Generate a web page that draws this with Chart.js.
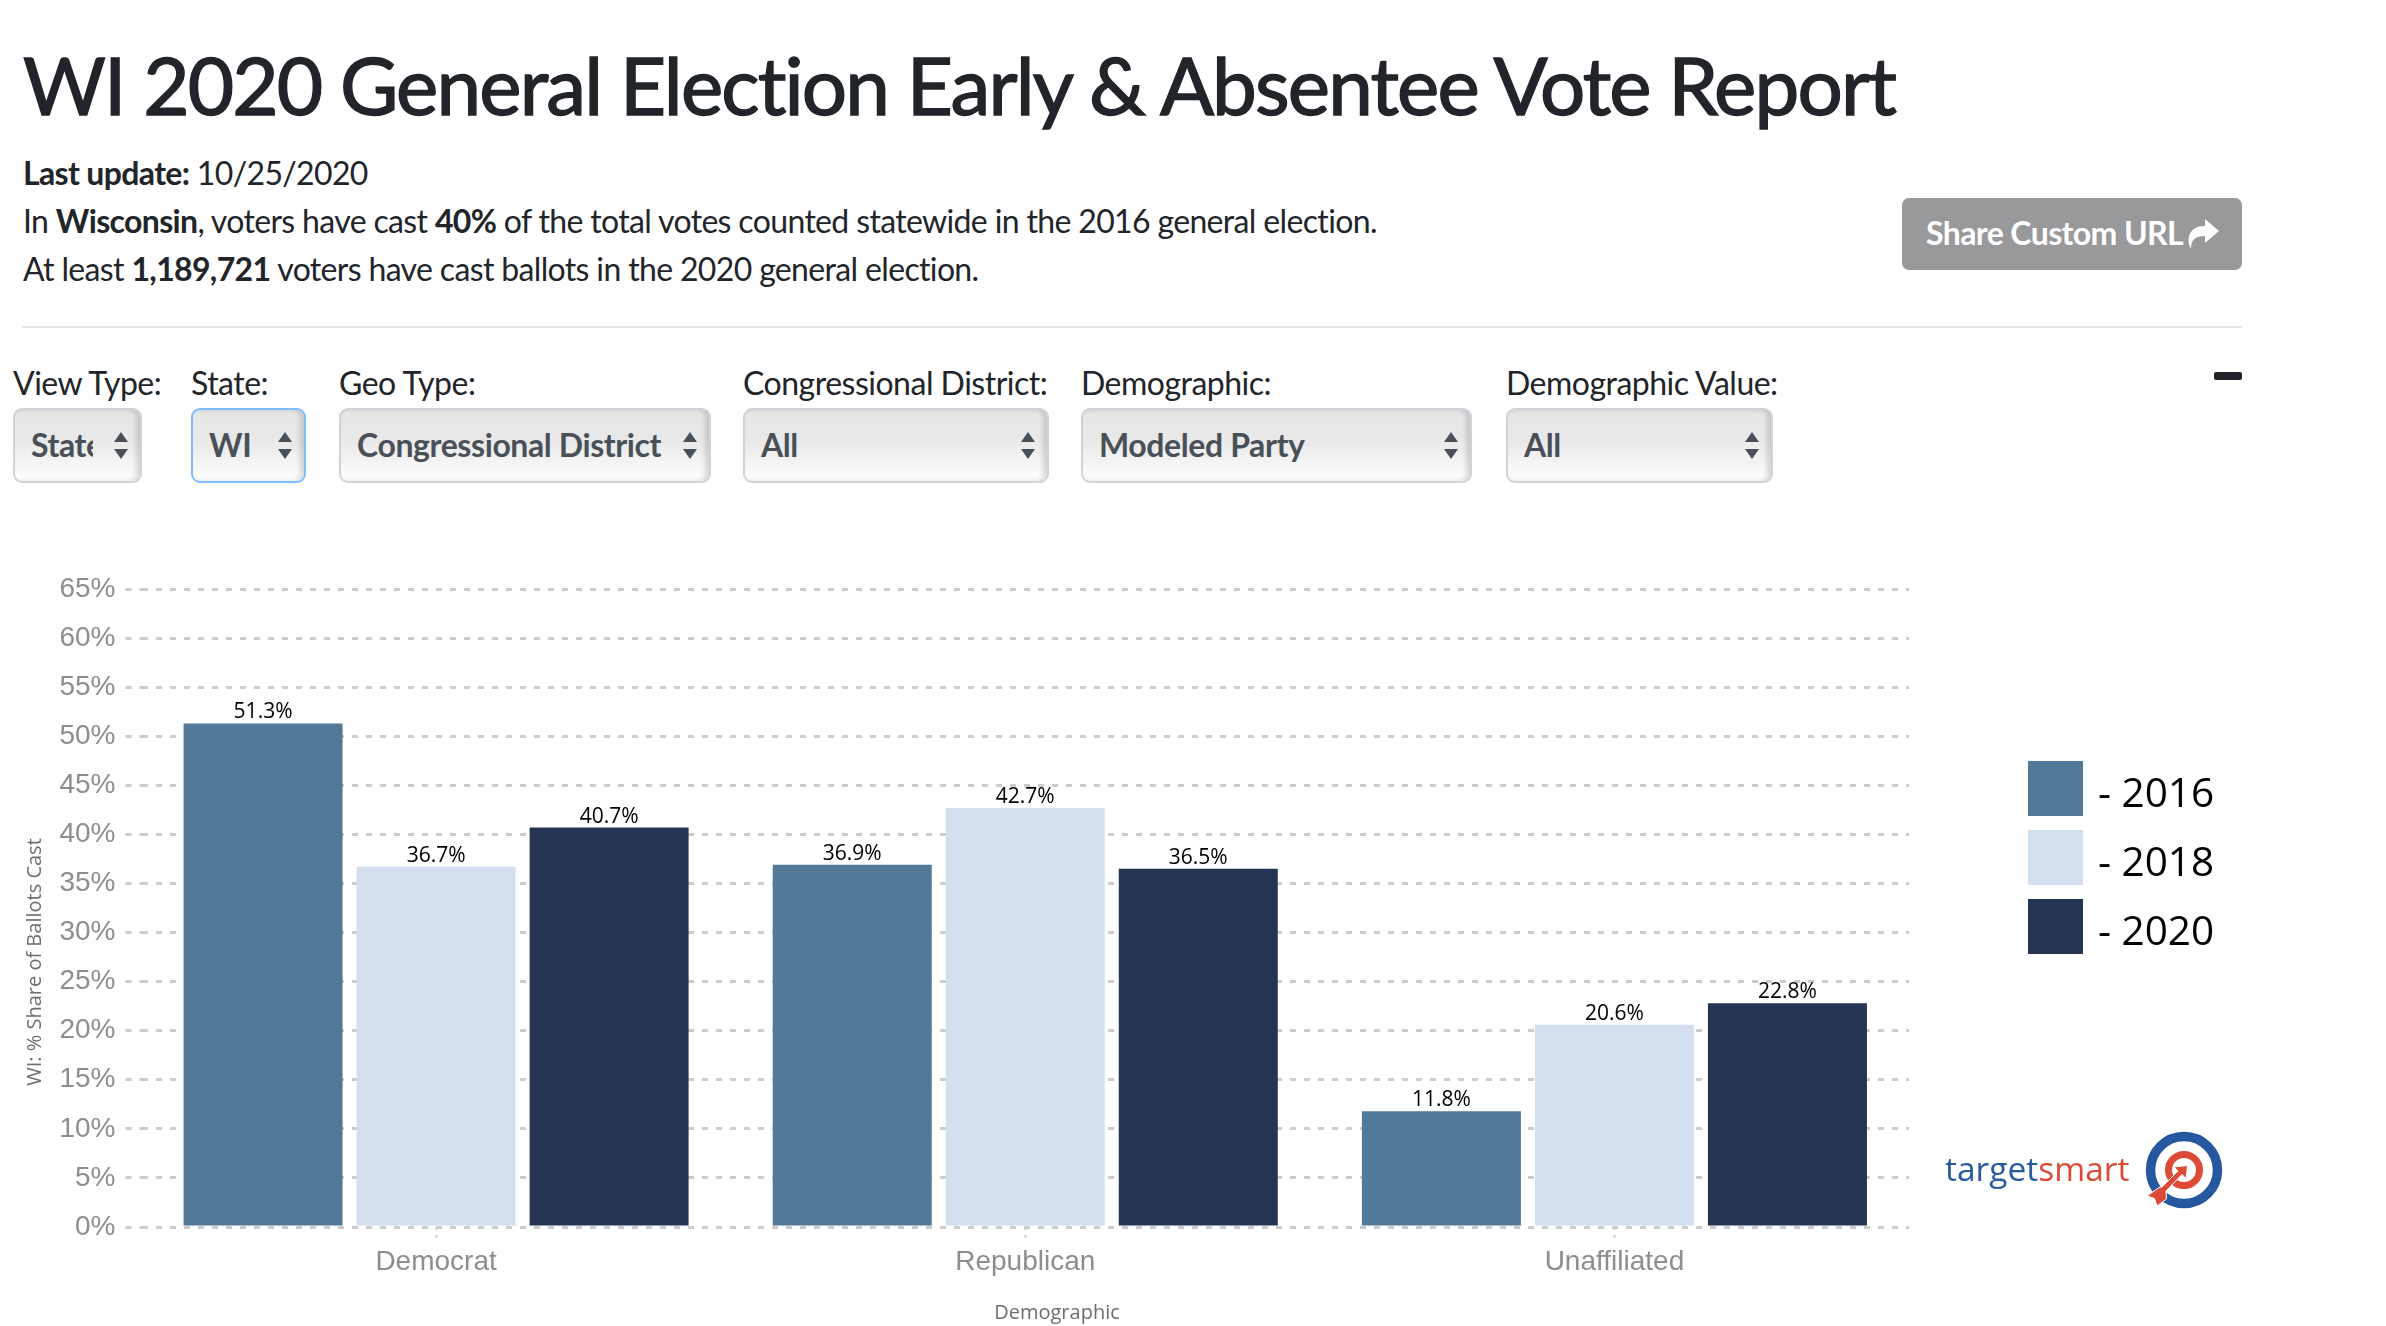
<!DOCTYPE html>
<html>
<head>
<meta charset="utf-8">
<title>WI 2020 General Election Early & Absentee Vote Report</title>
<script src="https://cdn.jsdelivr.net/npm/chart.js@4/dist/chart.umd.min.js"></script>
<style>
html, body { margin: 0; padding: 0; background: #fff; }
body { width: 2386px; height: 1326px; position: relative; overflow: hidden; font-family: Lato, "Noto Sans", sans-serif; color: #212529; }
.abs { position: absolute; white-space: nowrap; }
h1 { position: absolute; margin: 0; left: 23px; top: 36px; font-size: 80px; line-height: 96px; font-weight: 400; letter-spacing: -1.85px; -webkit-text-stroke: 1.4px #212529; white-space: nowrap; }
.info { font-size: 32px; line-height: 48px; letter-spacing: -0.65px; }
.filter-label { font-size: 32px; line-height: 40px; top: 363px; letter-spacing: -0.5px; }
select {
  position: absolute; top: 408px; height: 75px; box-sizing: border-box;
  -webkit-appearance: none; appearance: none;
  font-family: inherit; font-size: 32px; font-weight: 700; color: #495057; letter-spacing: -0.4px;
  padding: 0 47px 3px 16px; border: 2px solid #ced4da; border-radius: 9px;
  box-shadow: inset -4px 0 5px rgba(0,0,0,.14);
  background:
    url("data:image/svg+xml,%3Csvg xmlns='http://www.w3.org/2000/svg' width='14' height='27'%3E%3Cpath fill='%23495057' d='M7 0l7 10H0zM7 27L0 17h14z'/%3E%3C/svg%3E") no-repeat right 12px center,
    linear-gradient(#e6e6e6 0%, #e9e9e9 45%, #ffffff 100%);
}
select.focus { border-color: #80bdff; }
#share { left: 1902px; top: 198px; width: 340px; height: 72px; background: #98999b; border-radius: 7px; color: #fff; font-size: 32px; font-weight: 700; line-height: 70px; letter-spacing: -0.6px; }
#share span { position: absolute; left: 24px; }
#share svg { position: absolute; left: 283px; top: 20px; }
#rule { left: 22px; top: 326px; width: 2220px; height: 2px; background: #e3e4e6; }
#minus { left: 2214px; top: 372px; width: 28px; height: 8px; background: #212529; border-radius: 2px; }
#chart { position: absolute; left: 0; top: 540px; }
#legend { left: 2028px; top: 761px; }
#legend div { position: relative; height: 55px; margin-bottom: 14px; }
#legend i { position: absolute; left: 0; top: 0; width: 55px; height: 55px; }
#legend span { position: absolute; left: 70px; top: 3px; font-family: "Open Sans", sans-serif; font-size: 40.5px; line-height: 55px; color: #000; }
#logo { left: 1945px; top: 1146px; font-family: "Open Sans", sans-serif; font-size: 33.5px; line-height: 44px; color: #2a5a9e; }
#logo b { font-weight: 400; color: #dc4a38; }
#target { position: absolute; left: 2142px; top: 1128px; }
</style>
</head>
<body>
<h1>WI 2020 General Election Early &amp; Absentee Vote Report</h1>
<div class="abs info" style="left:23px;top:149px"><b>Last update:</b> 10/25/2020</div>
<div class="abs info" style="left:23px;top:197px">In <b>Wisconsin</b>, voters have cast <b>40%</b> of the total votes counted statewide in the 2016 general election.</div>
<div class="abs info" style="left:23px;top:245px">At least <b>1,189,721</b> voters have cast ballots in the 2020 general election.</div>
<div class="abs" id="share"><span>Share Custom URL</span><svg width="34" height="32" viewBox="0 0 34 32"><path fill="#fff" d="M20 1l14 12-14 12v-7C11 18 6 21 6 31 1 22 3 8 20 8z"/></svg></div>
<div class="abs" id="rule"></div>
<div class="abs" id="minus"></div>

<div class="abs filter-label" style="left:13px">View Type:</div>
<div class="abs filter-label" style="left:191px">State:</div>
<div class="abs filter-label" style="left:339px">Geo Type:</div>
<div class="abs filter-label" style="left:743px">Congressional District:</div>
<div class="abs filter-label" style="left:1081px">Demographic:</div>
<div class="abs filter-label" style="left:1506px">Demographic Value:</div>
<select style="left:13px;width:129px"><option>State</option></select>
<select class="focus" style="left:191px;width:115px"><option>WI</option></select>
<select style="left:339px;width:372px"><option>Congressional District</option></select>
<select style="left:743px;width:306px"><option>All</option></select>
<select style="left:1081px;width:391px"><option>Modeled Party</option></select>
<select style="left:1506px;width:267px"><option>All</option></select>

<canvas id="chart" width="2386" height="786"></canvas>

<div class="abs" id="legend"></div>
<div class="abs" id="logo">target<b>smart</b></div>
<svg id="target" width="84" height="84" viewBox="0 0 84 84">
  <circle cx="42" cy="42" r="33.5" fill="none" stroke="#25589e" stroke-width="9.5"/>
  <circle cx="42" cy="42" r="15.5" fill="none" stroke="#dc4a38" stroke-width="7"/>
  <path fill="#dc4a38" stroke="#fff" stroke-width="1" d="M45.5 37.5L44 50.5 40 46.5 24 63 24.5 71 15 78 12.5 70.5 5 68 17 59.5 20 59 36 43 32 39z"/>
</svg>

<script>
const categories = ['Democrat', 'Republican', 'Unaffiliated'];
const years = ['2016', '2018', '2020'];
const yearColors = ['#537999', '#d3dfee', '#233552'];
const values2016 = [51.3, 36.9, 11.8];
const values2018 = [36.7, 42.7, 20.6];
const values2020 = [40.7, 36.5, 22.8];
const yTicks = [0, 5, 10, 15, 20, 25, 30, 35, 40, 45, 50, 55, 60, 65];
const yTitle = 'WI: % Share of Ballots Cast';
const xTitle = 'Demographic';

// number above every bar
const valueLabels = {
  id: 'valueLabels',
  afterDatasetsDraw(chart) {
    const ctx = chart.ctx;
    ctx.save();
    ctx.font = '21px "Open Sans"';
    ctx.fillStyle = '#000';
    ctx.textAlign = 'center';
    ctx.textBaseline = 'alphabetic';
    chart.data.datasets.forEach((ds, i) => {
      chart.getDatasetMeta(i).data.forEach((bar, j) => {
        ctx.fillText(ds.data[j].toFixed(1) + '%', bar.x, bar.y - 5);
      });
    });
    ctx.restore();
  }
};

// axis titles sit off the middle of the axes in the original
const axisTitles = {
  id: 'axisTitles',
  afterDraw(chart) {
    const ctx = chart.ctx;
    ctx.save();
    ctx.font = '20px "Open Sans"';
    ctx.fillStyle = '#6e6e6e';
    ctx.textAlign = 'center';
    ctx.textBaseline = 'middle';
    ctx.fillText(xTitle, 1057, 773);
    ctx.translate(35, 422);
    ctx.rotate(-Math.PI / 2);
    ctx.fillText(yTitle, 0, 0);
    ctx.restore();
  }
};

new Chart(document.getElementById('chart'), {
  type: 'bar',
  data: {
    labels: categories,
    datasets: [
      { label: years[0], data: values2016, backgroundColor: yearColors[0] },
      { label: years[1], data: values2018, backgroundColor: yearColors[1] },
      { label: years[2], data: values2020, backgroundColor: yearColors[2] }
    ]
  },
  options: {
    responsive: false,
    animation: false,
    categoryPercentage: 0.881,
    barPercentage: 0.919,
    layout: { padding: { top: 49, right: 477, left: 0, bottom: 0 } },
    plugins: {
      tooltip: { enabled: false },
      legend: { display: false }
    },
    scales: {
      x: {
        afterFit(s) { s.height = 99; },
        border: { display: false },
        grid: { offset: false, drawOnChartArea: false, tickLength: 16, tickColor: '#ccc', tickWidth: 2, tickBorderDash: [3, 5] },
        ticks: { color: '#8e8e8e', padding: 2, font: { family: '"Liberation Sans"', size: 28 } }
      },
      y: {
        min: 0,
        max: 65,
        afterFit(s) { s.width = 141.5; },
        afterBuildTicks(s) { s.ticks = yTicks.map(v => ({ value: v })); },
        border: { display: false, dash: [6, 8] },
        grid: { color: '#ccc', lineWidth: 3, tickLength: 16, tickColor: '#ccc', tickWidth: 3, tickBorderDash: [6, 8] },
        ticks: { color: '#8e8e8e', padding: 10, font: { family: '"Liberation Sans"', size: 28 }, callback: v => v + '%' }
      }
    }
  },
  plugins: [valueLabels, axisTitles]
});

// legend is plain html, placed right of the plot
var legend = document.getElementById('legend');
for (var i = 0; i < years.length; i++) {
  var row = document.createElement('div');
  row.innerHTML = '<i style="background:' + yearColors[i] + '"></i><span>- ' + years[i] + '</span>';
  legend.appendChild(row);
}
</script>
</body>
</html>
